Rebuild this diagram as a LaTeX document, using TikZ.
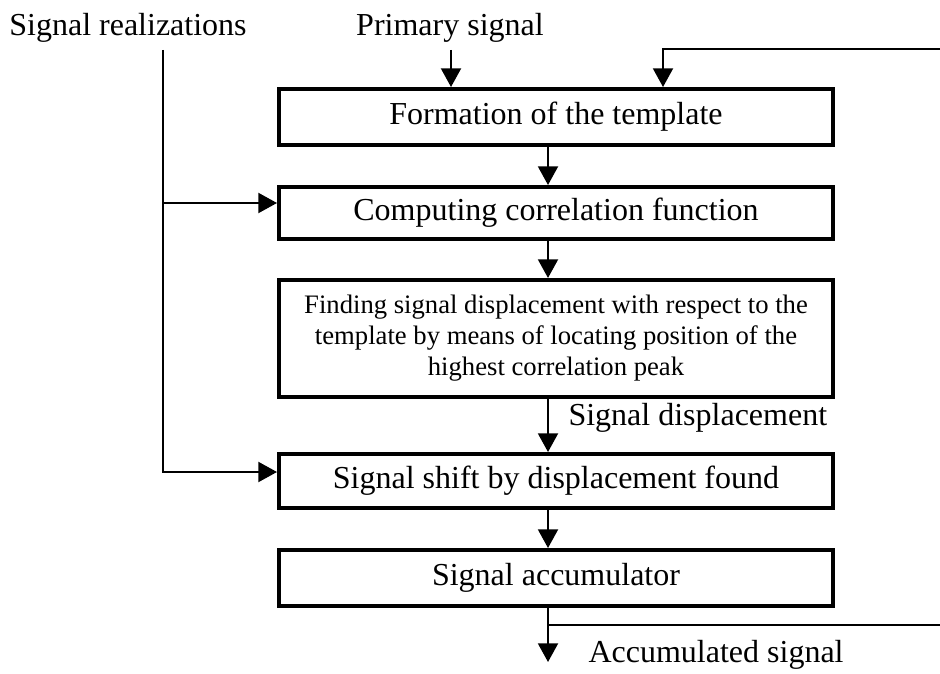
\documentclass[tikz,border=0pt]{standalone}
\usepackage{fontspec}
\setmainfont{Liberation Serif}
\usepackage{tikz}
\usetikzlibrary{arrows.meta}
\tikzset{
  blk/.style={draw,line width=1.5pt,fill=white,minimum width=207.75pt,inner sep=2pt,
    font=\fontsize{12}{14}\selectfont},
  lbl/.style={inner sep=0pt,font=\fontsize{12}{14}\selectfont},
  arr/.style={line width=0.75pt,-{Triangle[length=7pt,width=7.5pt]}},
  ln/.style={line width=0.75pt}
}

\begin{document}
\begin{tikzpicture}[x=0.375pt,y=-0.375pt]
\useasboundingbox (0,0) rectangle (940,673);
%blocks
\node [blk,minimum height=21pt] (form) at (556,117) {Formation of the template};
\node [blk,minimum height=19.5pt] (corr) at (556,213) {Computing correlation function};
\node [blk,minimum height=43.9pt,align=center,font=\fontsize{10}{11.6}\selectfont] (peak) at (556,338.5)
  {Finding signal displacement with respect to the\\template by means of locating position of the\\highest correlation peak};
\node [blk,minimum height=20.25pt] (shift) at (556,481) {Signal shift by displacement found};
\node [blk,minimum height=21pt] (accu) at (556,578) {Signal accumulator};
%
\coordinate (spine) at (548,0);
\coordinate (prim) at (451,50);
\coordinate (fbin) at (940,49);
\coordinate (fbx) at (663,0);
\coordinate (rtop) at (163,50);
\coordinate (rcorr) at (163,203);
\coordinate (rshift) at (163,472);
\coordinate (tap) at (548,625);
\coordinate (fbout) at (940,625);
\coordinate (out) at (548,662);
%labels
\node [lbl,anchor=base] (reallbl) at (128,36) {Signal realizations};
\node [lbl,anchor=base] (primlbl) at (450,36) {Primary signal};
\node [lbl,anchor=base west] (displbl) at (568,425) {Signal displacement};
\node [lbl,anchor=base west] (acclbl) at (588,662) {Accumulated signal};
%main chain
\draw [arr] (prim) -- (form.north -| prim);
\draw [arr] (fbin) -| (form.north -| fbx);
\draw [arr] (form.south -| spine) -- (corr.north -| spine);
\draw [arr] (corr.south -| spine) -- (peak.north -| spine);
\draw [arr] (peak.south -| spine) -- (shift.north -| spine);
\draw [arr] (shift.south -| spine) -- (accu.north -| spine);
\draw [arr] (accu.south -| spine) -- (out);
\draw [ln] (tap) -- (fbout);
%realizations
\draw [arr] (rtop) |- (shift.west |- rshift);
\draw [arr] (rcorr) -- (corr.west |- rcorr);
\end{tikzpicture}
\end{document}
